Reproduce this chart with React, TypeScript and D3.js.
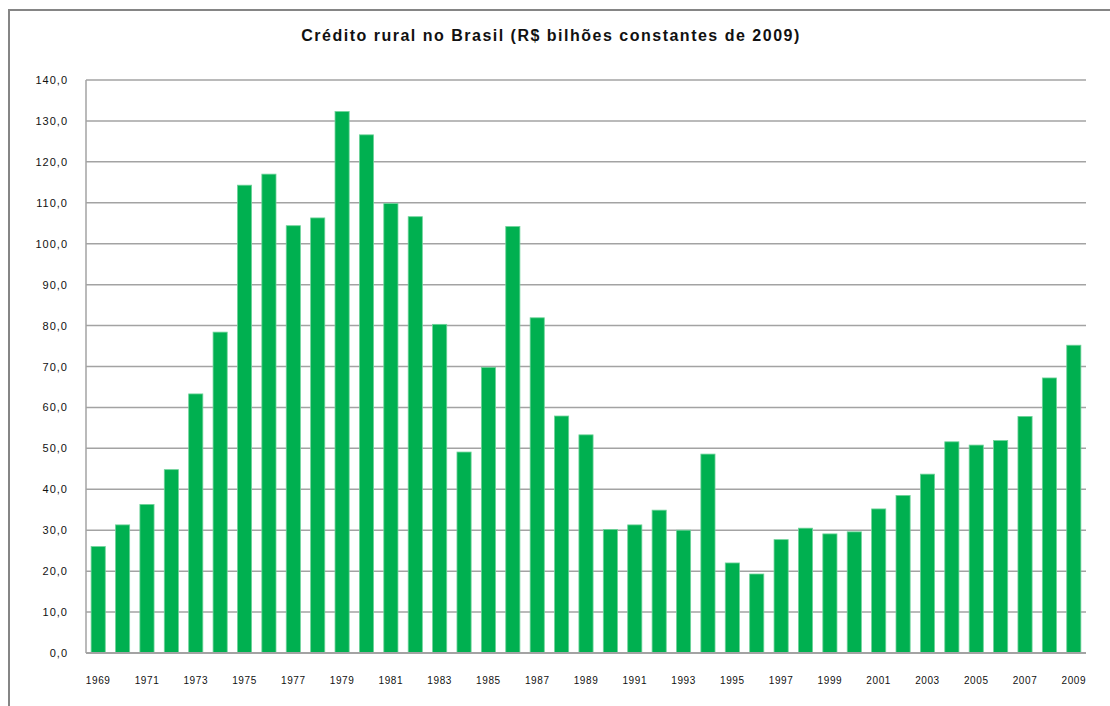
import React from "react";
import * as d3 from "d3";

const years: number[] = d3.range(1969, 2010);
const values: number[] = [
  26.0, 31.3, 36.3, 44.8, 63.3, 78.4, 114.3, 117.0, 104.4, 106.3,
  132.3, 126.6, 109.8, 106.6, 80.3, 49.1, 69.8, 104.2, 81.9, 57.9,
  53.3, 30.2, 31.3, 34.9, 30.0, 48.6, 22.0, 19.3, 27.7, 30.5,
  29.1, 29.6, 35.2, 38.5, 43.7, 51.6, 50.8, 51.9, 57.8, 67.2, 75.2,
];
const yTicks: number[] = d3.range(0, 141, 10);
const xLabelYears: number[] = d3.range(1969, 2010, 2);
const title = "Crédito rural no Brasil (R$ bilhões constantes de 2009)";

const W = 1110;
const H = 706;
const M = { left: 86, right: 1086, top: 80, bottom: 653 };

export default function App() {
  const x = d3
    .scaleBand<number>()
    .domain(years)
    .range([M.left, M.right])
    .paddingInner(0.42)
    .paddingOuter(0.21);
  const y = d3.scaleLinear().domain([0, 140]).range([M.bottom, M.top]);
  const fmt = (v: number) => v.toFixed(1).replace(".", ",");
  const font = "'Liberation Sans', Arial, sans-serif";

  return (
    <svg
      width={W}
      height={H}
      style={{ position: "absolute", left: 0, top: 0, background: "#fff" }}
    >
      <rect x={9} y={10} width={W + 20} height={H + 20} fill="#fff" stroke="#858585" strokeWidth={2} />
      <text
        x={551}
        y={41}
        textAnchor="middle"
        fontFamily={font}
        fontSize={16}
        fontWeight="bold"
        letterSpacing={1.5}
        fill="#111"
      >
        {title}
      </text>
      {yTicks.map((t) => (
        <g key={t}>
          {t > 0 && (
            <line x1={M.left} x2={M.right} y1={y(t)} y2={y(t)} stroke="#a3a3a3" strokeWidth={1.5} />
          )}
          <text
            x={68}
            y={y(t) + 4}
            textAnchor="end"
            fontFamily={font}
            fontSize={11}
            letterSpacing={1}
            fill="#111"
          >
            {fmt(t)}
          </text>
        </g>
      ))}
      {years.map((yr, i) => (
        <rect
          key={yr}
          x={x(yr)!}
          y={y(values[i])}
          width={x.bandwidth()}
          height={y(0) - y(values[i])}
          fill="#00b050"
          stroke="#6fd39a"
          strokeWidth={0.8}
        />
      ))}
      <line x1={M.left} x2={M.left} y1={M.top} y2={M.bottom} stroke="#a3a3a3" strokeWidth={1.5} />
      <line x1={M.left} x2={M.right} y1={M.bottom} y2={M.bottom} stroke="#a3a3a3" strokeWidth={2} />
      {xLabelYears.map((yr) => (
        <text
          key={yr}
          x={x(yr)! + x.bandwidth() / 2}
          y={684}
          textAnchor="middle"
          fontFamily={font}
          fontSize={10}
          letterSpacing={0.6}
          fill="#111"
        >
          {yr}
        </text>
      ))}
    </svg>
  );
}
